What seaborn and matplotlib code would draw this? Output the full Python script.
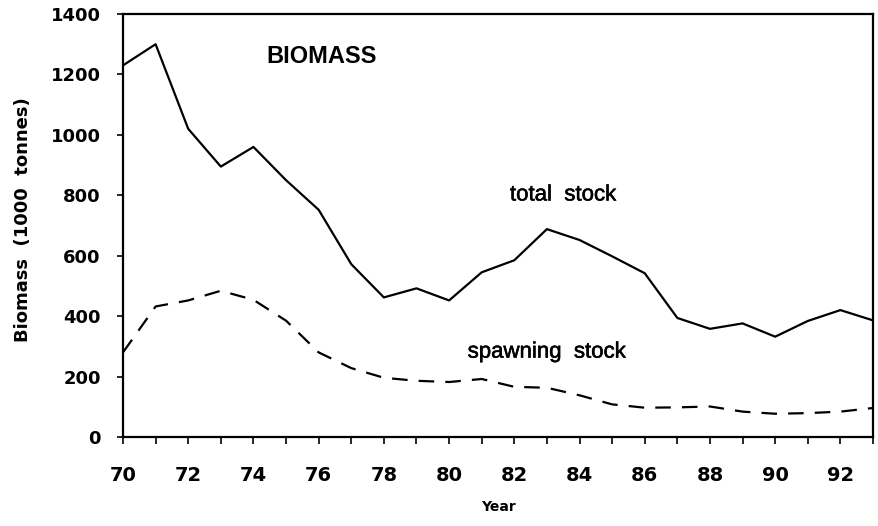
import numpy as np
import pandas as pd
import seaborn as sns
import matplotlib.pyplot as plt
import matplotlib.patheffects as pe
from matplotlib.ticker import MultipleLocator

years = list(range(70, 94))
total_stock = [1230, 1300, 1020, 895, 960, 850, 752, 572, 462, 492, 452, 545,
               585, 688, 652, 598, 542, 394, 358, 376, 332, 384, 420, 386]
spawning_stock = [280, 432, 452, 484, 454, 385, 280, 228, 196, 186, 182, 192,
                  166, 163, 138, 108, 97, 98, 101, 84, 77, 79, 84, 96]

df = pd.DataFrame({'Year': years, 'total': total_stock, 'spawning': spawning_stock})

sns.set_theme(style='ticks')
plt.rcParams['font.family'] = ['Liberation Sans', 'DejaVu Sans']
plt.rcParams['text.color'] = 'black'
plt.rcParams['axes.labelcolor'] = 'black'
plt.rcParams['xtick.color'] = 'black'
plt.rcParams['ytick.color'] = 'black'

fig = plt.figure(figsize=(8.79, 5.26), dpi=100)
ax = fig.add_axes([123 / 879, 89 / 526, 750 / 879, 423 / 526])

sns.lineplot(data=df, x='Year', y='total', ax=ax, color='black', linewidth=1.6)
sns.lineplot(data=df, x='Year', y='spawning', ax=ax, color='black', linewidth=1.6,
             linestyle=(0, (7, 5)))

ax.set_xlim(70, 93)
ax.set_ylim(0, 1400)
ax.xaxis.set_major_locator(MultipleLocator(2))
ax.xaxis.set_minor_locator(MultipleLocator(1))
ax.yaxis.set_major_locator(MultipleLocator(200))
for s in ax.spines.values():
    s.set_visible(True)
    s.set_color('black')
    s.set_linewidth(1.6)
ax.tick_params(which='both', direction='out', color='black', width=1.2)
ax.tick_params(axis='x', which='major', length=5, pad=16, labelsize=14)
ax.tick_params(axis='x', which='minor', length=5)
ax.tick_params(axis='y', which='major', length=4, pad=12, labelsize=13)
for lab in ax.get_xticklabels() + ax.get_yticklabels():
    lab.set_fontweight('bold')
    lab.set_fontfamily('DejaVu Sans')

ax.set_xlabel('Year', fontsize=10, fontweight='bold', family='DejaVu Sans')
ax.xaxis.set_label_coords(0.5, -0.150)
ax.set_ylabel('Biomass  (1000  tonnes)', fontsize=13, fontweight='bold', family='DejaVu Sans')
ax.yaxis.set_label_coords(-0.121, 0.515)

thick = [pe.withStroke(linewidth=0.4, foreground='black')]
ax.text(76.1, 1258, 'BIOMASS', fontsize=17, fontweight='bold', ha='center', va='center')
ax.text(83.5, 801, 'total  stock', fontsize=16, ha='center', va='center', path_effects=thick)
ax.text(83.0, 281, 'spawning  stock', fontsize=16, ha='center', va='center', path_effects=thick)

fig.savefig('out.png', dpi=100)
